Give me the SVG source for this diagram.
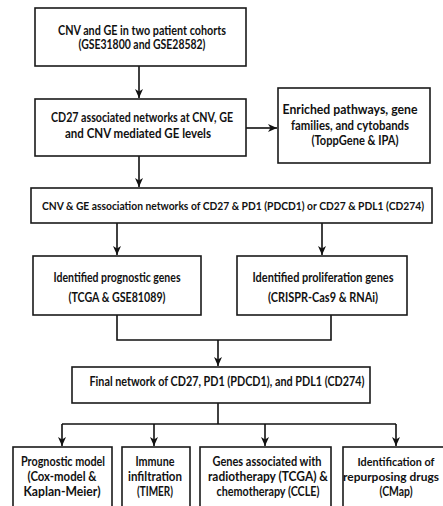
<svg xmlns="http://www.w3.org/2000/svg" width="443" height="506" viewBox="0 0 443 506">
<style>
.box{fill:#fff;stroke:#1a1a1a;stroke-width:1.6}
.t{font-family:Lato,"Liberation Sans",sans-serif;font-weight:bold;font-size:12.5px;fill:#111;text-anchor:middle}
.s{font-size:11.5px}
.x{font-size:10.8px}
.c{fill:none;stroke:#111;stroke-width:1.6}
</style>
<defs>
<marker id="ah" markerUnits="userSpaceOnUse" markerWidth="10" markerHeight="10" refX="9" refY="5" orient="auto">
<path d="M0,1 L9,5 L0,9 L2.5,5 z" fill="#111"/>
</marker>
</defs>
<rect width="443" height="506" fill="#fff"/>
<g id="connectors">
<line class="c" x1="139" y1="66" x2="139" y2="98" marker-end="url(#ah)"/>
<line class="c" x1="246" y1="128" x2="277" y2="128" marker-end="url(#ah)"/>
<line class="c" x1="139" y1="156" x2="139" y2="187" marker-end="url(#ah)"/>
<line class="c" x1="117" y1="223" x2="117" y2="255" marker-end="url(#ah)"/>
<line class="c" x1="322" y1="223" x2="322" y2="255" marker-end="url(#ah)"/>
<polyline class="c" points="117,315 117,340 331,340 331,315"/>
<line class="c" x1="218" y1="340" x2="218" y2="366" marker-end="url(#ah)"/>
<line class="c" x1="218" y1="403" x2="218" y2="424"/>
<line class="c" x1="62" y1="424" x2="396" y2="424"/>
<line class="c" x1="62" y1="424" x2="62" y2="446" marker-end="url(#ah)"/>
<line class="c" x1="154" y1="424" x2="154" y2="446" marker-end="url(#ah)"/>
<line class="c" x1="265" y1="424" x2="265" y2="446" marker-end="url(#ah)"/>
<line class="c" x1="396" y1="424" x2="396" y2="446" marker-end="url(#ah)"/>
</g>
<g id="n1">
<rect class="box" x="35" y="8" width="211" height="58"/>
<text class="t" x="142" y="35" textLength="168" lengthAdjust="spacingAndGlyphs">CNV and GE in two patient cohorts</text>
<text class="t" x="142" y="49" textLength="127" lengthAdjust="spacingAndGlyphs">(GSE31800 and GSE28582)</text>
</g>
<g id="n2">
<rect class="box" x="35" y="99" width="211" height="57"/>
<text class="t" x="142" y="122" textLength="182" lengthAdjust="spacingAndGlyphs">CD27 associated networks at CNV, GE</text>
<text class="t" x="138" y="138" textLength="146" lengthAdjust="spacingAndGlyphs">and CNV mediated GE levels</text>
</g>
<g id="n3">
<rect class="box" x="278" y="88" width="152" height="75"/>
<text class="t" x="350" y="114" textLength="135" lengthAdjust="spacingAndGlyphs">Enriched pathways, gene</text>
<text class="t" x="350" y="130" textLength="118" lengthAdjust="spacingAndGlyphs">families, and cytobands</text>
<text class="t" x="355" y="145" textLength="87" lengthAdjust="spacingAndGlyphs">(ToppGene &amp; IPA)</text>
</g>
<g id="n4">
<rect class="box" x="31" y="188" width="401" height="35"/>
<text class="t x" x="233" y="210" textLength="382" lengthAdjust="spacingAndGlyphs">CNV &amp; GE association networks of CD27 &amp; PD1 (PDCD1) or CD27 &amp; PDL1 (CD274)</text>
</g>
<g id="n5">
<rect class="box" x="33" y="256" width="168" height="59"/>
<text class="t" x="117" y="282" textLength="127" lengthAdjust="spacingAndGlyphs">Identified prognostic genes</text>
<text class="t" x="117" y="302" textLength="97" lengthAdjust="spacingAndGlyphs">(TCGA &amp; GSE81089)</text>
</g>
<g id="n6">
<rect class="box" x="237" y="256" width="170" height="59"/>
<text class="t" x="323" y="282" textLength="141" lengthAdjust="spacingAndGlyphs">Identified proliferation genes</text>
<text class="t" x="323" y="302" textLength="110" lengthAdjust="spacingAndGlyphs">(CRISPR-Cas9 &amp; RNAi)</text>
</g>
<g id="n7">
<rect class="box" x="72" y="367" width="298" height="36"/>
<text class="t" x="227" y="386" textLength="275" lengthAdjust="spacingAndGlyphs">Final network of CD27, PD1 (PDCD1), and PDL1 (CD274)</text>
</g>
<g id="n8">
<rect class="box" x="13" y="447" width="99" height="70"/>
<text class="t" x="63" y="466" textLength="84" lengthAdjust="spacingAndGlyphs">Prognostic model</text>
<text class="t" x="62" y="481" textLength="69" lengthAdjust="spacingAndGlyphs">(Cox-model &amp;</text>
<text class="t" x="62" y="496" textLength="77" lengthAdjust="spacingAndGlyphs">Kaplan-Meier)</text>
</g>
<g id="n9">
<rect class="box" x="122" y="447" width="68" height="70"/>
<text class="t" x="155" y="466" textLength="39" lengthAdjust="spacingAndGlyphs">Immune</text>
<text class="t" x="155" y="481" textLength="54" lengthAdjust="spacingAndGlyphs">infiltration</text>
<text class="t" x="155" y="496" textLength="36" lengthAdjust="spacingAndGlyphs">(TIMER)</text>
</g>
<g id="n10">
<rect class="box" x="200" y="447" width="131" height="70"/>
<text class="t" x="267" y="466" textLength="109" lengthAdjust="spacingAndGlyphs">Genes associated with</text>
<text class="t" x="268" y="481" textLength="120" lengthAdjust="spacingAndGlyphs">radiotherapy (TCGA) &amp;</text>
<text class="t" x="268" y="496" textLength="103" lengthAdjust="spacingAndGlyphs">chemotherapy (CCLE)</text>
</g>
<g id="n11">
<rect class="box" x="343" y="447" width="115" height="70"/>
<text class="t s" x="396" y="466" textLength="77" lengthAdjust="spacingAndGlyphs">Identification of</text>
<text class="t s" x="391" y="481" textLength="96" lengthAdjust="spacingAndGlyphs">repurposing drugs</text>
<text class="t" x="396" y="496" textLength="33" lengthAdjust="spacingAndGlyphs">(CMap)</text>
</g>
</svg>
